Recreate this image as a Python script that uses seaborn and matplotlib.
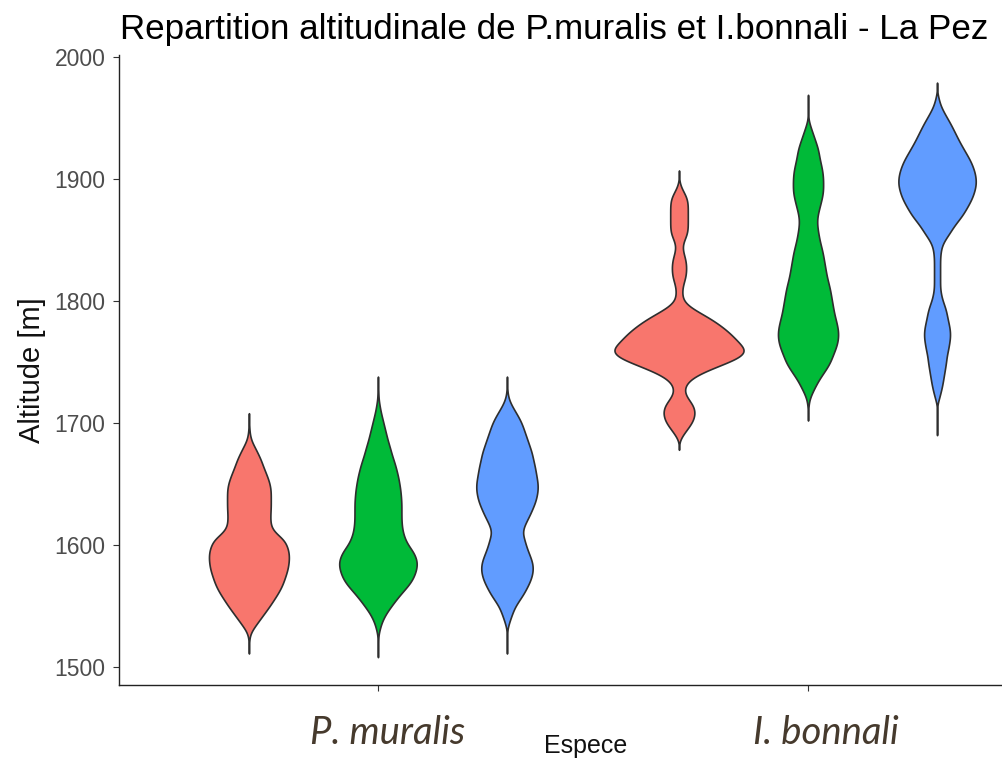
import numpy as np
import pandas as pd
import seaborn as sns
import matplotlib.pyplot as plt
from matplotlib.transforms import ScaledTranslation

# Observations per altitude (m), one pair of lists per species / group
species = ["P. muralis", "I. bonnali"]
groups = ["1", "2", "3"]
colors = ["#F8766D", "#00BA38", "#619CFF"]

# P. muralis - group 1
pm1_alt = [1523, 1530, 1535, 1540, 1545, 1550, 1555, 1560, 1565, 1570, 1575, 1580,
           1585, 1590, 1595, 1600, 1605, 1610, 1615, 1620, 1625, 1630, 1635, 1640,
           1645, 1650, 1655, 1660, 1665, 1670, 1675, 1680, 1685, 1690, 1696]
pm1_n = [1, 6, 15, 24, 33, 42, 50, 58, 65, 70, 74, 78,
         80, 81, 80, 76, 70, 52, 44, 43, 43, 44, 44, 44,
         44, 42, 38, 33, 28, 24, 18, 12, 5, 2, 1]

# P. muralis - group 2
pm2_alt = [1520, 1530, 1535, 1540, 1545, 1550, 1555, 1560, 1565, 1570, 1575, 1580,
           1585, 1590, 1595, 1600, 1605, 1610, 1615, 1620, 1625, 1630, 1635, 1640,
           1645, 1650, 1655, 1660, 1665, 1670, 1675, 1680, 1685, 1690, 1695, 1700,
           1705, 1710, 1715, 1720, 1726]
pm2_n = [1, 3, 6, 11, 18, 27, 36, 46, 57, 67, 73, 77,
         79, 76, 70, 60, 54, 50, 48, 47, 47, 47, 47, 46,
         45, 43, 41, 38, 35, 31, 27, 24, 20, 17, 14, 11,
         8, 5, 3, 1, 1]

# P. muralis - group 3
pm3_alt = [1523, 1535, 1540, 1545, 1550, 1555, 1560, 1565, 1570, 1575, 1580, 1585,
           1590, 1595, 1600, 1605, 1610, 1615, 1620, 1625, 1630, 1635, 1640, 1645,
           1650, 1655, 1660, 1665, 1670, 1675, 1680, 1685, 1690, 1695, 1700, 1705,
           1710, 1715, 1720, 1726]
pm3_n = [1, 3, 7, 11, 16, 24, 32, 38, 44, 48, 50, 49,
         45, 40, 36, 33, 29, 32, 38, 44, 49, 54, 57, 59,
         59, 57, 55, 53, 50, 48, 44, 40, 36, 32, 28, 22,
         15, 8, 3, 1]

# I. bonnali - group 1
ib1_alt = [1690, 1695, 1700, 1705, 1710, 1715, 1720, 1725, 1730, 1735, 1740, 1745,
           1750, 1755, 1760, 1765, 1770, 1775, 1780, 1785, 1790, 1795, 1800, 1805,
           1810, 1815, 1820, 1825, 1830, 1835, 1840, 1845, 1850, 1855, 1860, 1865,
           1870, 1875, 1880, 1885, 1890, 1895]
ib1_n = [7, 16, 25, 30, 31, 27, 17, 10, 11, 19, 38, 66,
         97, 124, 130, 118, 107, 95, 80, 63, 42, 21, 8, 6,
         6, 9, 13, 14, 14, 12, 8, 6, 10, 16, 17, 17,
         17, 17, 17, 15, 8, 2]

# I. bonnali - group 2
ib2_alt = [1714, 1720, 1725, 1730, 1735, 1740, 1745, 1750, 1755, 1760, 1765, 1770,
           1775, 1780, 1785, 1790, 1795, 1800, 1805, 1810, 1815, 1820, 1825, 1830,
           1835, 1840, 1845, 1850, 1855, 1860, 1865, 1870, 1875, 1880, 1885, 1890,
           1895, 1900, 1905, 1910, 1915, 1920, 1925, 1930, 1935, 1940, 1945, 1957]
ib2_n = [1, 3, 8, 14, 20, 28, 36, 43, 47, 52, 56, 58,
         58, 56, 53, 50, 48, 46, 44, 42, 39, 36, 34, 32,
         30, 28, 25, 22, 20, 18, 17, 18, 21, 24, 27, 29,
         29, 29, 28, 26, 23, 21, 19, 15, 11, 7, 3, 1]

# I. bonnali - group 3
ib3_alt = [1702, 1720, 1725, 1730, 1735, 1740, 1745, 1750, 1755, 1760, 1765, 1770,
           1775, 1780, 1785, 1790, 1795, 1800, 1805, 1810, 1815, 1820, 1825, 1830,
           1835, 1840, 1845, 1850, 1855, 1860, 1865, 1870, 1875, 1880, 1885, 1890,
           1895, 1900, 1905, 1910, 1915, 1920, 1925, 1930, 1935, 1940, 1945, 1950,
           1955, 1960, 1965, 1967]
ib3_n = [1, 4, 7, 10, 12, 14, 16, 18, 19, 22, 24, 26,
         26, 24, 21, 19, 16, 11, 8, 6, 6, 6, 6, 6,
         6, 7, 9, 15, 24, 31, 40, 50, 57, 64, 70, 74,
         77, 77, 75, 71, 66, 59, 52, 45, 39, 33, 27, 20,
         13, 7, 3, 1]

BW_M = 4.0  # kde bandwidth in metres


def fixed_bw(kde):
    return BW_M / np.std(kde.dataset, ddof=1)


parts = []
for sp, g, alt, n in [
    (species[0], groups[0], pm1_alt, pm1_n),
    (species[0], groups[1], pm2_alt, pm2_n),
    (species[0], groups[2], pm3_alt, pm3_n),
    (species[1], groups[0], ib1_alt, ib1_n),
    (species[1], groups[1], ib2_alt, ib2_n),
    (species[1], groups[2], ib3_alt, ib3_n),
]:
    parts.append(pd.DataFrame({"Espece": sp, "Groupe": g,
                               "Altitude": np.repeat(alt, n)}))
df = pd.concat(parts, ignore_index=True)

sns.set_style("ticks")
plt.rcParams["font.family"] = ["Liberation Sans", "DejaVu Sans"]

fig = plt.figure(figsize=(10.02, 7.61), dpi=100)
ax = fig.add_axes([0.1188, 0.0999, 0.8812, 0.8284])

sns.violinplot(data=df, x="Espece", y="Altitude", hue="Groupe",
               order=species, hue_order=groups, palette=colors, saturation=1,
               inner=None, cut=3, bw_method=fixed_bw, gridsize=600,
               density_norm="area", common_norm=True, width=0.9, gap=0,
               linewidth=1.2, linecolor="#2e2e2e", legend=False, ax=ax)

ax.set_xlim(-0.602, 1.451)
ax.set_ylim(1485.2, 2002)
ax.set_yticks([1500, 1600, 1700, 1800, 1900, 2000])

for side in ["top", "right"]:
    ax.spines[side].set_visible(False)
for side in ["left", "bottom"]:
    ax.spines[side].set_linewidth(1.0)
    ax.spines[side].set_color("#222222")

ax.tick_params(axis="y", labelsize=16.5, labelcolor="#4d4d4d", length=4.3,
               width=0.8, color="#333333", pad=5.5)
ax.tick_params(axis="x", length=4.3, width=0.8, color="#333333", pad=17)
# the species names sit a little right of their ticks in the original
for lab, dx in zip(ax.get_xticklabels(), [10, 18]):
    lab.set_fontfamily(["Lato", "Open Sans", "DejaVu Sans"])
    lab.set_fontstyle("italic")
    lab.set_fontsize(27.5)
    lab.set_color("#463a2d")
    lab.set_transform(lab.get_transform() + ScaledTranslation(dx / 100, 0, fig.dpi_scale_trans))

ax.set_ylabel("Altitude [m]", fontsize=21, color="#111111")
ax.yaxis.set_label_coords(-0.083, 0.5)
ax.set_xlabel("Espece", fontsize=18, color="#111111")
ax.xaxis.set_label_coords(0.528, -0.078)

fig.text(0.1198, 1 - 29 / 761, "Repartition altitudinale de P.muralis et I.bonnali - La Pez",
         ha="left", va="center", fontsize=25.2, color="#000000")

fig.savefig("out.png", dpi=100, facecolor="white")
